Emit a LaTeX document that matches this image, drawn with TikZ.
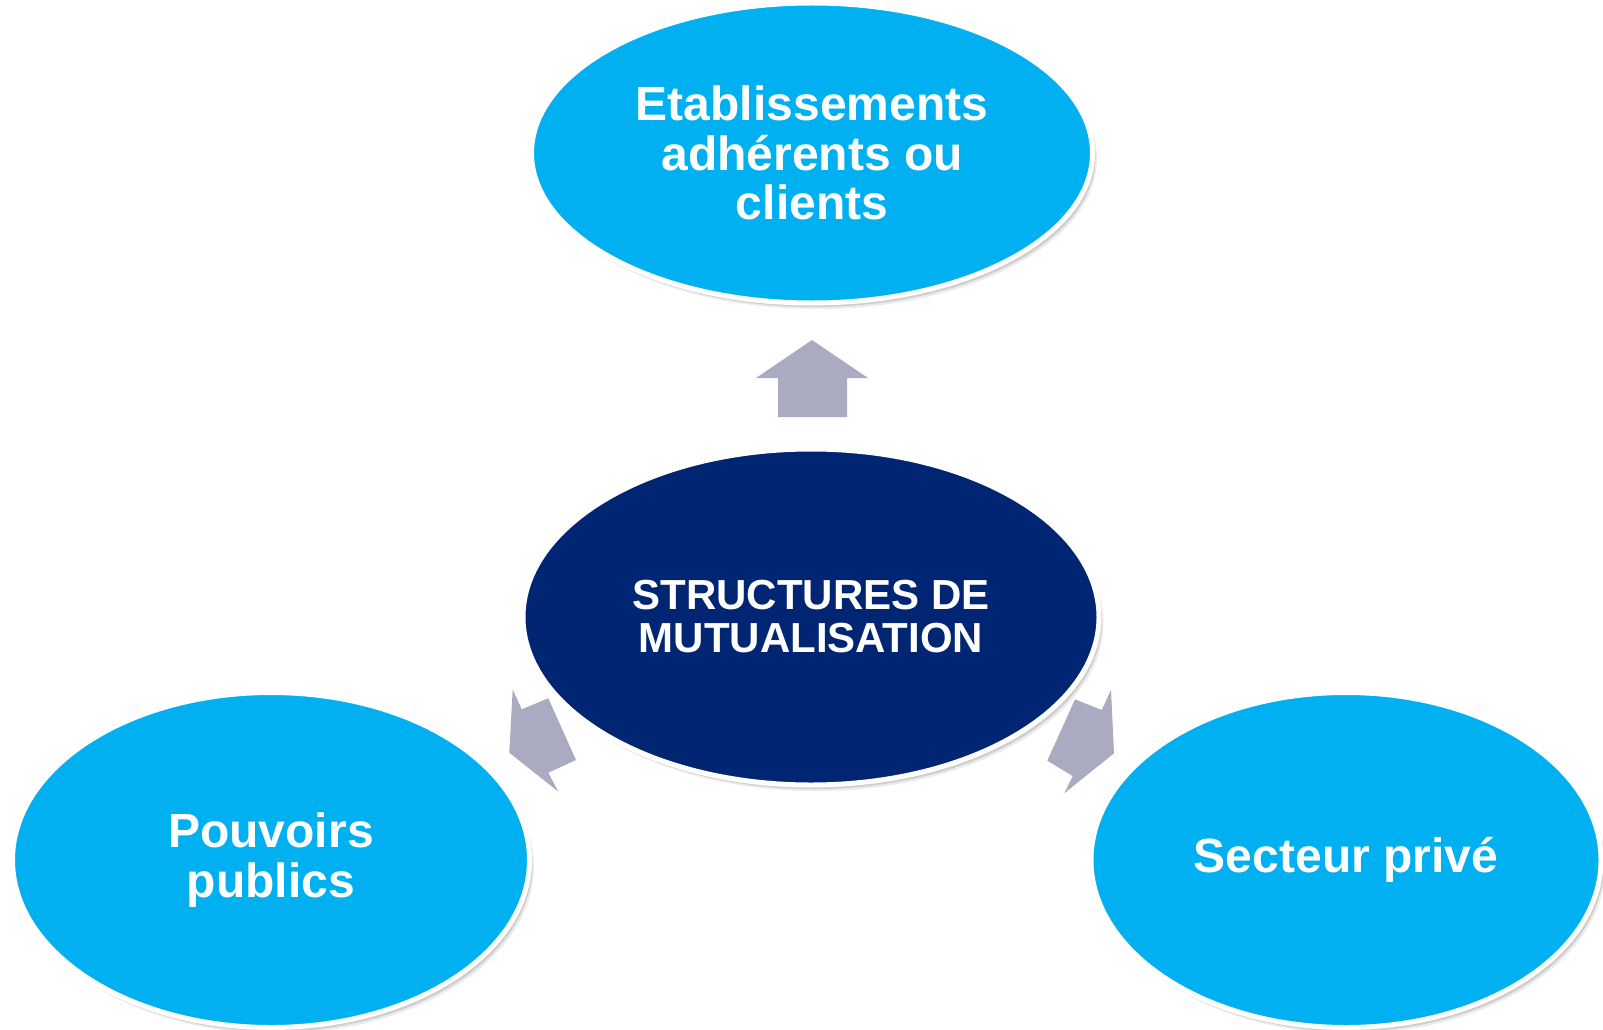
\documentclass[tikz,border=0pt]{standalone}
\usepackage{fontspec}
\setmainfont{Liberation Sans}
\usetikzlibrary{shapes.geometric,shadows}
\definecolor{bulle}{HTML}{00B0F0}
\definecolor{marine}{HTML}{002673}
\definecolor{fleche}{HTML}{AAABC0}
\begin{document}
\begin{tikzpicture}[x=1pt,y=-1pt,
  bulle/.style={ellipse,draw=white,line width=5pt,fill=bulle,text=white,inner sep=0pt,align=center,
    font=\bfseries\fontsize{48}{49.5}\selectfont,
    drop shadow={shadow xshift=1.5pt,shadow yshift=-2pt,opacity=0.15,fill=black},
    drop shadow={shadow xshift=3pt,shadow yshift=-4pt,opacity=0.12,fill=black},
    drop shadow={shadow xshift=4.5pt,shadow yshift=-6pt,opacity=0.08,fill=black}},
  fleche/.style={fill=fleche}]
\useasboundingbox (0,0) rectangle (1603,1030);
\node[bulle,minimum width=561pt,minimum height=300pt] (etab) at (812,153) {Etablissements\\adhérents ou\\clients};
\node[bulle,fill=marine,minimum width=576pt,minimum height=336pt,
  font=\bfseries\fontsize{42}{43}\selectfont] (mutu) at (811,617) {STRUCTURES DE\\MUTUALISATION};
\node[bulle,minimum width=517pt,minimum height=335pt] (pouv) at (271,860) {Pouvoirs\\publics};
\node[bulle,minimum width=510pt,minimum height=335pt] (prive) at (1346,860) {Secteur privé};
\fill[fleche](812,340)--(868,378)--(847,378)--(847,417)--(778,417)--(778,378)--(756,378)--cycle;
\fill[fleche](509.3,752.7)--(558.3,791.7)--(548.3,772.7)--(576,760)--(548.3,698.3)--(521.7,709.3)--(512.7,689.3)--cycle;
\fill[fleche](1114,753.3)--(1111,690)--(1101.7,710)--(1075,699.3)--(1047.3,760.7)--(1072.7,776)--(1064.3,793.3)--cycle;
\end{tikzpicture}
\end{document}
